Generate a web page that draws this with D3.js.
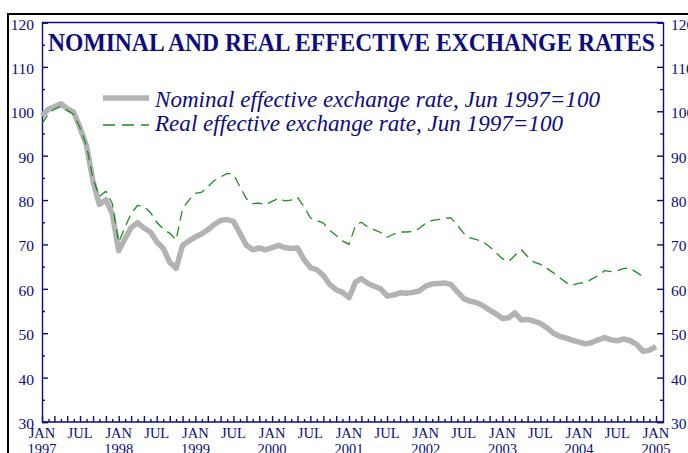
<!DOCTYPE html>
<html>
<head>
<meta charset="utf-8">
<script src="https://cdn.jsdelivr.net/npm/d3@7"></script>
<style>
  html, body { margin: 0; padding: 0; background: #fff; }
  svg { display: block; }
</style>
</head>
<body>
<svg id="chart" width="688" height="453"></svg>
<script>
// ---------------- DATA ----------------
const startYear = 1997; // monthly series, starting January 1997
const nominal = [
  99, 100.5, 101, 101.7, 100.6, 99.8, 96.3, 92.2, 84.2, 79, 80.1, 77,
  68.6, 71.4, 73.8, 74.9, 73.7, 72.8, 70.6, 69.1, 66, 64.6, 69.8, 70.8,
  71.7, 72.4, 73.3, 74.5, 75.4, 75.6, 75.2, 72.5, 69.8, 68.8, 69.2, 68.8,
  69.3, 69.8, 69.3, 69.1, 69.2, 66.6, 64.8, 64.3, 63, 61, 59.8, 59.2,
  58, 61.5, 62.3, 61.2, 60.6, 60, 58.4, 58.6, 59.1, 59, 59.2, 59.5,
  60.6, 61.1, 61.2, 61.3, 61, 59.3, 57.8, 57.2, 56.9, 56.2, 55.2, 54.4,
  53.3, 53.5, 54.6, 53, 53.1, 52.7, 52.2, 51.2, 50, 49.3, 48.9, 48.4,
  48, 47.6, 47.9, 48.5, 49, 48.5, 48.3, 48.7, 48.3, 47.5, 45.9, 46.2,
  47
];
const real = [
  97.2, 99.5, 100.5, 101, 100.2, 99.3, 96.3, 92.2, 84.8, 80.8, 82, 79.3,
  70.5, 74, 77, 78.8, 78.6, 77.2, 75, 73.5, 72.5, 71, 78, 80,
  81.5, 81.8, 83, 84.4, 85.2, 86, 85.8, 83, 80.3, 79.2, 79.3, 79,
  79.7, 80.4, 79.8, 80, 80.6, 78.5, 76, 75.4, 74.8, 73.2, 72, 70.8,
  70, 74.3, 75, 73.9, 73.3, 72.7, 71.6, 72.3, 72.8, 72.8, 72.9, 73.6,
  74.8, 75.4, 75.6, 75.9, 76, 74.3, 72.5, 71.5, 71.1, 70.6, 69.5, 68.2,
  66.8, 66.2, 67.5, 68.8, 67.3, 66, 65.5, 64.6, 63.6, 62.5, 61.4, 60.8,
  61.3, 61.4, 62.2, 63, 64.1, 63.9, 64.1, 64.6, 64.6, 63.7, 62.7
];
const yTicks = [30, 40, 50, 60, 70, 80, 90, 100, 110, 120];
const yMinorTicks = [35, 45, 55, 65, 75, 85, 95, 105, 115];
const monthLabels = ["JAN", "JUL"];
const years = [1997, 1998, 1999, 2000, 2001, 2002, 2003, 2004, 2005];
const titleText = "NOMINAL AND REAL EFFECTIVE EXCHANGE RATES";
const legendNames = ["Nominal effective exchange rate, Jun 1997=100",
                     "Real effective exchange rate, Jun 1997=100"];

// ---------------- LAYOUT ----------------
const navy = "#0b0b82";
const grayLine = "#b3b3b3";
const green = "#1e8c1e";
const serif = "'Liberation Serif', 'Times New Roman', serif";

const plot = { left: 42, right: 663, top: 22.5, bottom: 422 };
const svg = d3.select("#chart");

const monthDate = i => new Date(startYear, i, 1);
const x = d3.scaleTime()
  .domain([new Date(1997, 0, 1), new Date(2005, 0, 1)])
  .range([plot.left, 656]);
const y = d3.scaleLinear().domain([30, 120]).range([plot.bottom, plot.top]);

// outer black frame
svg.append("path")
  .attr("d", "M8,453 L8,14 L690,14")
  .attr("fill", "none").attr("stroke", "#000").attr("stroke-width", 2);

// plot frame top
svg.append("line")
  .attr("x1", plot.left).attr("x2", plot.right)
  .attr("y1", plot.top).attr("y2", plot.top)
  .attr("stroke", navy).attr("stroke-width", 1.3);

// left axis
const gL = svg.append("g").attr("transform", `translate(${plot.left},0)`);
gL.call(d3.axisLeft(y).tickValues(yTicks).tickSize(-6).tickPadding(8).tickFormat(d3.format("d")));
const gLm = svg.append("g").attr("transform", `translate(${plot.left},0)`);
gLm.call(d3.axisLeft(y).tickValues(yMinorTicks).tickSize(-3).tickFormat(""));

// right axis
const gR = svg.append("g").attr("transform", `translate(${plot.right},0)`);
gR.call(d3.axisRight(y).tickValues(yTicks).tickSize(-6).tickPadding(8).tickFormat(d3.format("d")));
const gRm = svg.append("g").attr("transform", `translate(${plot.right},0)`);
gRm.call(d3.axisRight(y).tickValues(yMinorTicks).tickSize(-3).tickFormat(""));

// bottom axis: monthly ticks, every other month taller
const allMonths = d3.range(0, 97).map(monthDate);
const gB = svg.append("g").attr("transform", `translate(0,${plot.bottom})`);
gB.call(d3.axisBottom(x).tickValues(allMonths.filter((d, i) => i % 2 === 1)).tickSize(-3).tickFormat(""));
const gB2 = svg.append("g").attr("transform", `translate(0,${plot.bottom})`);
gB2.call(d3.axisBottom(x).tickValues(allMonths.filter((d, i) => i % 2 === 0)).tickSize(-6).tickFormat(""));
gB2.select(".domain").remove();
gB.select(".domain").attr("d", `M${plot.left},0H${plot.right}`);

[gL, gLm, gR, gRm, gB, gB2].forEach(g => {
  g.selectAll("path, line").attr("stroke", navy).attr("stroke-width", 1.4);
  g.selectAll("text").attr("fill", navy).attr("font-family", serif).attr("font-size", 15.5)
    .attr("dy", "0.42em");
});
gLm.select(".domain").remove();
gRm.select(".domain").remove();

// bottom labels JAN / JUL and years
const labelG = svg.append("g").attr("font-family", serif).attr("fill", navy)
  .attr("text-anchor", "middle");
const labelMonths = d3.range(0, 97, 6).map(monthDate);
labelG.selectAll("text.m").data(labelMonths).join("text")
  .attr("class", "m")
  .attr("x", d => x(d))
  .attr("y", 437.5)
  .attr("font-size", 14.5)
  .text(d => monthLabels[d.getMonth() === 0 ? 0 : 1]);
labelG.selectAll("text.yr").data(years).join("text")
  .attr("class", "yr")
  .attr("x", d => x(new Date(d, 0, 1)))
  .attr("y", 454)
  .attr("font-size", 14.5)
  .text(d => d);

// title
svg.append("text")
  .attr("x", 48).attr("y", 51)
  .attr("font-family", serif).attr("font-weight", "bold")
  .attr("font-size", 25.5).attr("fill", navy)
  .attr("textLength", 607).attr("lengthAdjust", "spacingAndGlyphs")
  .text(titleText);

// lines
const lineGen = d3.line()
  .x((d, i) => x(monthDate(i)))
  .y(d => y(d));

svg.append("path").datum(nominal)
  .attr("d", lineGen)
  .attr("fill", "none").attr("stroke", grayLine)
  .attr("stroke-width", 5.5).attr("stroke-linejoin", "round");

svg.append("path").datum(real)
  .attr("d", lineGen)
  .attr("fill", "none").attr("stroke", green)
  .attr("stroke-width", 1.3).attr("stroke-dasharray", "10,6");

// legend
const leg = svg.append("g");
leg.append("line").attr("x1", 103).attr("x2", 149).attr("y1", 98).attr("y2", 98)
  .attr("stroke", grayLine).attr("stroke-width", 5.5);
leg.append("line").attr("x1", 103).attr("x2", 149).attr("y1", 125).attr("y2", 125)
  .attr("stroke", green).attr("stroke-width", 1.3).attr("stroke-dasharray", "12,7");
leg.append("text").attr("x", 155).attr("y", 107)
  .attr("font-family", serif).attr("font-style", "italic").attr("font-size", 22.5)
  .attr("fill", navy).attr("textLength", 445).attr("lengthAdjust", "spacingAndGlyphs")
  .text(legendNames[0]);
leg.append("text").attr("x", 155).attr("y", 131)
  .attr("font-family", serif).attr("font-style", "italic").attr("font-size", 22.5)
  .attr("fill", navy).attr("textLength", 408).attr("lengthAdjust", "spacingAndGlyphs")
  .text(legendNames[1]);
</script>
</body>
</html>
